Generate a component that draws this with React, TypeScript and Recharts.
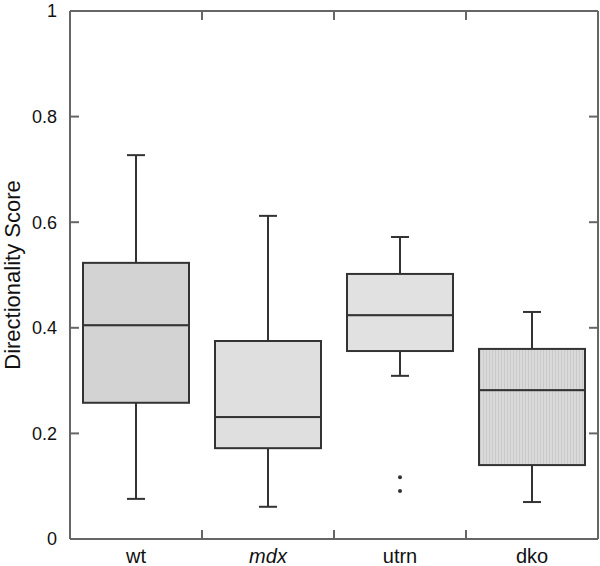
import { ComposedChart, Bar, Scatter, XAxis, YAxis, Label } from 'recharts';

const categories = ['wt', 'mdx', 'utrn', 'dko'];
const minVals = [0.076, 0.061, 0.309, 0.07];
const q1Vals = [0.258, 0.172, 0.356, 0.14];
const medianVals = [0.405, 0.231, 0.424, 0.282];
const q3Vals = [0.523, 0.375, 0.502, 0.36];
const maxVals = [0.727, 0.612, 0.572, 0.43];

const outlierCats = ['utrn', 'utrn'];
const outlierVals = [0.117, 0.091];

const yTicks = [0, 0.2, 0.4, 0.6, 0.8, 1];
const boundaryTicks = [1, 2, 3];

const boxFills = ['#d3d3d3', '#dfdfdf', '#e1e1e1', 'url(#dkoStripes)'];
const INK = '#333';
const FRAME = '#666';

// stacked pieces: invisible base, lower whisker, lower box, upper box, upper whisker
const rows = categories.map((name, i) => ({
  name,
  base: minVals[i],
  lowWhisker: q1Vals[i] - minVals[i],
  lowBox: medianVals[i] - q1Vals[i],
  highBox: q3Vals[i] - medianVals[i],
  highWhisker: maxVals[i] - q3Vals[i],
}));

const outliers = outlierCats.map((name, i) => ({ name, v: outlierVals[i] }));

const Empty = () => <g />;

const LowWhisker = (p: any) => {
  const cx = p.x + p.width / 2;
  const yb = p.y + p.height;
  return (
    <g stroke={INK} strokeWidth={2}>
      <line x1={cx} x2={cx} y1={p.y} y2={yb} />
      <line x1={cx - 9} x2={cx + 9} y1={yb} y2={yb} />
    </g>
  );
};

const HighWhisker = (p: any) => {
  const cx = p.x + p.width / 2;
  return (
    <g stroke={INK} strokeWidth={2}>
      <line x1={cx} x2={cx} y1={p.y} y2={p.y + p.height} />
      <line x1={cx - 9} x2={cx + 9} y1={p.y} y2={p.y} />
    </g>
  );
};

const BoxPart = (p: any) => (
  <g>
    {p.index === 3 && (
      <defs>
        <pattern id="dkoStripes" width="3" height="6" patternUnits="userSpaceOnUse">
          <rect width="3" height="6" fill="#dadada" />
          <rect width="1" height="6" fill="#c9c9c9" />
        </pattern>
      </defs>
    )}
    <rect x={p.x} y={p.y} width={p.width} height={p.height} fill={boxFills[p.index]} stroke={INK} strokeWidth={2} />
  </g>
);

const OutlierDot = (p: any) => <circle cx={p.cx} cy={p.cy} r={2} fill={INK} />;

const CatTick = (p: any) => (
  <text
    x={p.x}
    y={p.y}
    dy={24}
    textAnchor="middle"
    fontSize={20}
    fill="#111"
    fontStyle={p.payload.value === 'mdx' ? 'italic' : 'normal'}
  >
    {p.payload.value}
  </text>
);

// tick lines only, no label
const NoLabel = () => <g />;

const innerTick = { stroke: FRAME, strokeWidth: 2 };

export default function App() {
  return (
    <div style={{ position: 'absolute', left: 0, top: 0, fontFamily: 'Arial, "Liberation Sans", sans-serif', background: '#fff' }}>
      <ComposedChart width={600} height={566} data={rows} margin={{ top: 11, right: 2, bottom: 0, left: 0 }} barSize={106}>
        <XAxis
          dataKey="name"
          allowDuplicatedCategory={false}
          height={27}
          tickLine={false}
          tickSize={0}
          tickMargin={0}
          axisLine={{ stroke: FRAME, strokeWidth: 2 }}
          tick={<CatTick />}
        />
        <YAxis
          domain={[0, 1]}
          ticks={yTicks}
          width={70}
          tickLine={false}
          tickSize={0}
          tickMargin={13}
          axisLine={{ stroke: FRAME, strokeWidth: 2 }}
          tick={{ fontSize: 18, fill: '#111' }}
        >
          <Label
            value="Directionality Score"
            angle={-90}
            position="insideLeft"
            offset={12}
            style={{ textAnchor: 'middle', fontSize: 22, fill: '#111' }}
          />
        </YAxis>
        {/* frame ticks pointing inward; the x ones mark the borders between groups (domain 0..4) */}
        <XAxis xAxisId="top" dataKey="base" orientation="top" mirror type="number" domain={[0, 4]} allowDataOverflow ticks={boundaryTicks} interval={0} tick={<NoLabel />} tickSize={9} tickLine={innerTick} axisLine={{ stroke: FRAME, strokeWidth: 2 }} />
        <XAxis xAxisId="bot" dataKey="base" orientation="bottom" mirror type="number" domain={[0, 4]} allowDataOverflow ticks={boundaryTicks} interval={0} tick={<NoLabel />} tickSize={9} tickLine={innerTick} axisLine={false} />
        <YAxis yAxisId="left" orientation="left" mirror type="number" domain={[0, 1]} allowDataOverflow ticks={yTicks} interval={0} tick={<NoLabel />} tickSize={9} tickLine={innerTick} axisLine={false} />
        <YAxis yAxisId="right" orientation="right" mirror type="number" domain={[0, 1]} allowDataOverflow ticks={yTicks} interval={0} tick={<NoLabel />} tickSize={9} tickLine={innerTick} axisLine={{ stroke: FRAME, strokeWidth: 2 }} />

        <Bar dataKey="base" stackId="box" shape={<Empty />} isAnimationActive={false} />
        <Bar dataKey="lowWhisker" stackId="box" shape={<LowWhisker />} isAnimationActive={false} />
        <Bar dataKey="lowBox" stackId="box" shape={<BoxPart />} isAnimationActive={false} />
        <Bar dataKey="highBox" stackId="box" shape={<BoxPart />} isAnimationActive={false} />
        <Bar dataKey="highWhisker" stackId="box" shape={<HighWhisker />} isAnimationActive={false} />
        <Scatter data={outliers} dataKey="v" shape={<OutlierDot />} isAnimationActive={false} />
      </ComposedChart>
    </div>
  );
}
